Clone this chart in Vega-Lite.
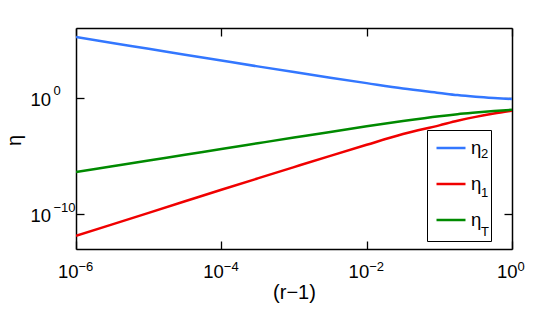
{
  "$schema": "https://vega.github.io/schema/vega-lite/v6.json",
  "width": 436,
  "height": 221,
  "autosize": "none",
  "padding": {"left": 76, "top": 28, "right": 33, "bottom": 69},
  "background": "white",
  "config": {
    "font": "Liberation Sans",
    "view": {"stroke": null},
    "axis": {
      "domainColor": "black",
      "domainWidth": 1.5,
      "tickColor": "black",
      "tickWidth": 1.3,
      "tickSize": -8,
      "grid": false,
      "labelFont": "Liberation Sans",
      "labelColor": "black",
      "labelFlush": false,
      "labelOverlap": false,
      "labelBound": false,
      "titleFont": "Liberation Sans",
      "titleFontSize": 20,
      "titleFontWeight": "normal",
      "titleColor": "black"
    },
    "legend": {
      "labelFont": "Liberation Sans",
      "labelColor": "black"
    }
  },
  "data": {
    "values": [
      {"x": 1e-6, "y": 1.66e5, "s": "η2", "sub": "2"},
      {"x": 3.162e-6, "y": 5.13e4, "s": "η2", "sub": "2"},
      {"x": 1e-5, "y": 1.62e4, "s": "η2", "sub": "2"},
      {"x": 3.162e-5, "y": 5012, "s": "η2", "sub": "2"},
      {"x": 1e-4, "y": 1585, "s": "η2", "sub": "2"},
      {"x": 3.162e-4, "y": 501, "s": "η2", "sub": "2"},
      {"x": 1e-3, "y": 162, "s": "η2", "sub": "2"},
      {"x": 3.162e-3, "y": 53.7, "s": "η2", "sub": "2"},
      {"x": 1e-2, "y": 18.2, "s": "η2", "sub": "2"},
      {"x": 3.162e-2, "y": 6.31, "s": "η2", "sub": "2"},
      {"x": 0.1, "y": 2.63, "s": "η2", "sub": "2"},
      {"x": 0.1778, "y": 1.70, "s": "η2", "sub": "2"},
      {"x": 0.3162, "y": 1.23, "s": "η2", "sub": "2"},
      {"x": 0.5623, "y": 0.955, "s": "η2", "sub": "2"},
      {"x": 1, "y": 0.776, "s": "η2", "sub": "2"},
      {"x": 1e-6, "y": 1.35e-12, "s": "η1", "sub": "1"},
      {"x": 3.162e-6, "y": 1.32e-11, "s": "η1", "sub": "1"},
      {"x": 1e-5, "y": 1.29e-10, "s": "η1", "sub": "1"},
      {"x": 3.162e-5, "y": 1.26e-9, "s": "η1", "sub": "1"},
      {"x": 1e-4, "y": 1.23e-8, "s": "η1", "sub": "1"},
      {"x": 3.162e-4, "y": 1.17e-7, "s": "η1", "sub": "1"},
      {"x": 1e-3, "y": 1.10e-6, "s": "η1", "sub": "1"},
      {"x": 3.162e-3, "y": 1.02e-5, "s": "η1", "sub": "1"},
      {"x": 1e-2, "y": 9.12e-5, "s": "η1", "sub": "1"},
      {"x": 3.162e-2, "y": 7.59e-4, "s": "η1", "sub": "1"},
      {"x": 0.1, "y": 4.27e-3, "s": "η1", "sub": "1"},
      {"x": 0.1778, "y": 1.05e-2, "s": "η1", "sub": "1"},
      {"x": 0.3162, "y": 2.29e-2, "s": "η1", "sub": "1"},
      {"x": 0.5623, "y": 4.37e-2, "s": "η1", "sub": "1"},
      {"x": 1, "y": 7.59e-2, "s": "η1", "sub": "1"},
      {"x": 1e-6, "y": 4.07e-7, "s": "ηT", "sub": "T"},
      {"x": 3.162e-6, "y": 1.29e-6, "s": "ηT", "sub": "T"},
      {"x": 1e-5, "y": 4.07e-6, "s": "ηT", "sub": "T"},
      {"x": 3.162e-5, "y": 1.26e-5, "s": "ηT", "sub": "T"},
      {"x": 1e-4, "y": 3.98e-5, "s": "ηT", "sub": "T"},
      {"x": 3.162e-4, "y": 1.23e-4, "s": "ηT", "sub": "T"},
      {"x": 1e-3, "y": 3.80e-4, "s": "ηT", "sub": "T"},
      {"x": 3.162e-3, "y": 1.17e-3, "s": "ηT", "sub": "T"},
      {"x": 1e-2, "y": 3.55e-3, "s": "ηT", "sub": "T"},
      {"x": 3.162e-2, "y": 1.02e-2, "s": "ηT", "sub": "T"},
      {"x": 0.1, "y": 2.63e-2, "s": "ηT", "sub": "T"},
      {"x": 0.1778, "y": 3.89e-2, "s": "ηT", "sub": "T"},
      {"x": 0.3162, "y": 5.37e-2, "s": "ηT", "sub": "T"},
      {"x": 0.5623, "y": 7.24e-2, "s": "ηT", "sub": "T"},
      {"x": 1, "y": 9.33e-2, "s": "ηT", "sub": "T"}
    ]
  },
  "layer": [
    {
      "mark": {"type": "line", "strokeWidth": 2.5, "interpolate": "monotone", "clip": true},
      "encoding": {
        "x": {
          "field": "x", "type": "quantitative",
          "scale": {"type": "log", "domain": [1e-6, 1], "nice": false},
          "axis": {
            "orient": "bottom",
            "values": [1e-6, 1e-4, 1e-2, 1],
            "labelExpr": "'10'",
            "labelFontSize": 18.5,
            "labelAlign": "right",
            "labelBaseline": "alphabetic",
            "labelOffset": {"condition": {"test": "datum.value > 0.5", "value": 5}, "value": 2},
            "labelPadding": 36,
            "title": "(r−1)",
            "titleBaseline": "middle",
            "titleY": 43.5
          }
        },
        "y": {
          "field": "y", "type": "quantitative",
          "scale": {"type": "log", "domain": [1e-13, 1e6], "nice": false},
          "axis": {
            "orient": "left",
            "values": [1e-10, 1],
            "labelExpr": "'10'",
            "labelFontSize": 18.5,
            "labelAlign": "left",
            "labelBaseline": "alphabetic",
            "labelOffset": 7.5,
            "labelPadding": 54,
            "title": "η",
            "titleBaseline": "middle",
            "titleAlign": "center",
            "titleX": -62,
            "titleY": 112
          }
        },
        "color": {
          "field": "s", "type": "nominal",
          "scale": {"domain": ["η2", "η1", "ηT"], "range": ["#3377ff", "#f00000", "#008a00"]},
          "legend": {
            "orient": "none",
            "legendX": 351,
            "legendY": 102,
            "title": null,
            "labelExpr": "'η'",
            "symbolType": "stroke",
            "symbolSize": 841,
            "symbolStrokeWidth": 2.5,
            "symbolOffset": 6,
            "labelFontSize": 18.5,
            "labelBaseline": "middle",
            "labelOffset": 4,
            "rowPadding": 10,
            "padding": 2
          }
        }
      }
    },
    {
      "mark": {"type": "line", "opacity": 0},
      "encoding": {
        "x": {
          "field": "x", "type": "quantitative",
          "axis": {"orient": "top", "values": [1e-6, 1e-4, 1e-2, 1], "labels": false, "title": null}
        },
        "y": {
          "field": "y", "type": "quantitative",
          "axis": {"orient": "right", "values": [1e-10, 1], "labels": false, "title": null}
        }
      }
    },
    {
      "mark": {"type": "line", "opacity": 0},
      "encoding": {
        "x": {
          "field": "x", "type": "quantitative",
          "axis": {
            "orient": "bottom",
            "values": [1e-6, 1e-4, 1e-2, 1],
            "domain": false,
            "tickOpacity": 0,
            "labelExpr": "datum.value < 2e-6 ? '−6' : datum.value < 2e-4 ? '−4' : datum.value < 2e-2 ? '−2' : '0'",
            "labelFontSize": 13,
            "labelAlign": "left",
            "labelBaseline": "alphabetic",
            "labelOffset": {"condition": {"test": "datum.value > 0.5", "value": 5}, "value": 2},
            "labelPadding": 29,
            "title": null
          }
        },
        "y": {
          "field": "y", "type": "quantitative",
          "axis": {
            "orient": "left",
            "values": [1e-10, 1],
            "domain": false,
            "tickOpacity": 0,
            "labelExpr": "datum.value < 1e-5 ? '−10' : '0'",
            "labelFontSize": 13,
            "labelAlign": "left",
            "labelBaseline": "alphabetic",
            "labelOffset": -3,
            "labelPadding": 31,
            "title": null
          }
        },
        "strokeDash": {
          "field": "sub", "type": "nominal",
          "scale": {"domain": ["2", "1", "T"], "range": [[1, 0], [1, 0], [1, 0]]},
          "legend": {
            "orient": "none",
            "legendX": 351,
            "legendY": 102,
            "title": null,
            "symbolType": "stroke",
            "symbolSize": 841,
            "symbolOpacity": 0,
            "symbolOffset": 6,
            "labelFontSize": 13,
            "labelBaseline": "top",
            "labelOffset": 15,
            "rowPadding": 10,
            "padding": 2,
            "strokeColor": "black"
          }
        }
      }
    }
  ],
  "resolve": {"axis": {"x": "independent", "y": "independent"}}
}
